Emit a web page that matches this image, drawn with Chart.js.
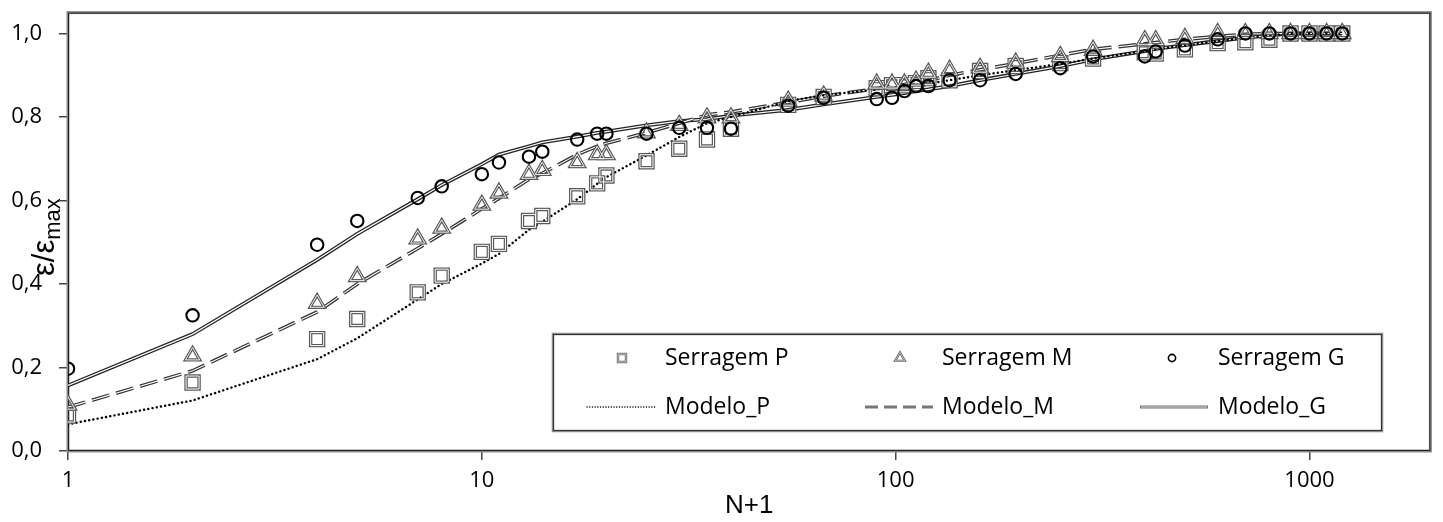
<!DOCTYPE html>
<html>
<head>
<meta charset="utf-8">
<script src="https://cdn.jsdelivr.net/npm/chart.js@4.4.1/dist/chart.umd.min.js"></script>
<style>
html,body{margin:0;padding:0;background:#fff;}
#wrap{width:1443px;height:522px;position:relative;}
</style>
</head>
<body>
<div id="wrap"><canvas id="c" width="1443" height="522"></canvas></div>
<script>
// ---- data ----
const nPlus1 = [1, 2, 4, 5, 7, 8, 10, 11, 13, 14, 17, 19, 20, 25, 30, 35, 40, 55, 67, 90, 98, 105, 112, 120, 135, 160, 195, 250, 300, 400, 425, 500, 600, 700, 800, 900, 1000, 1100, 1200];

const serragemP = [0.085, 0.164, 0.268, 0.316, 0.380, 0.420, 0.477, 0.496, 0.551, 0.563, 0.610, 0.641, 0.660, 0.694, 0.724, 0.746, 0.772, 0.829, 0.848, 0.869, 0.876, 0.876, 0.881, 0.893, 0.888, 0.910, 0.922, 0.929, 0.940, 0.955, 0.952, 0.962, 0.977, 0.979, 0.985, 1.0, 1.0, 1.0, 1.0];
const serragemM = [0.110, 0.228, 0.354, 0.418, 0.508, 0.534, 0.589, 0.618, 0.663, 0.672, 0.691, 0.710, 0.710, 0.762, 0.780, 0.798, 0.798, 0.838, 0.850, 0.879, 0.879, 0.879, 0.886, 0.905, 0.912, 0.917, 0.929, 0.945, 0.960, 0.983, 0.983, 0.988, 1.0, 1.0, 1.0, 1.0, 1.0, 1.0, 1.0];
const serragemG = [0.197, 0.325, 0.494, 0.551, 0.606, 0.634, 0.663, 0.691, 0.705, 0.717, 0.746, 0.760, 0.760, 0.760, 0.774, 0.774, 0.772, 0.827, 0.846, 0.843, 0.846, 0.862, 0.874, 0.874, 0.888, 0.888, 0.903, 0.917, 0.945, 0.945, 0.957, 0.971, 0.986, 1.0, 1.0, 1.0, 1.0, 1.0, 1.0];

const modeloP = [0.064, 0.121, 0.220, 0.270, 0.363, 0.400, 0.449, 0.472, 0.530, 0.549, 0.603, 0.640, 0.656, 0.708, 0.752, 0.785, 0.800, 0.838, 0.852, 0.866, 0.870, 0.873, 0.877, 0.880, 0.888, 0.900, 0.912, 0.927, 0.940, 0.958, 0.962, 0.972, 0.982, 0.990, 0.995, 1.0, 1.0, 1.0, 1.0];
const modeloM = [0.105, 0.192, 0.333, 0.400, 0.485, 0.520, 0.580, 0.605, 0.651, 0.665, 0.710, 0.730, 0.737, 0.762, 0.785, 0.805, 0.812, 0.835, 0.850, 0.868, 0.874, 0.878, 0.883, 0.887, 0.900, 0.913, 0.928, 0.948, 0.962, 0.975, 0.978, 0.986, 0.993, 0.998, 1.0, 1.0, 1.0, 1.0, 1.0];
const modeloG = [0.157, 0.280, 0.458, 0.520, 0.603, 0.637, 0.687, 0.710, 0.730, 0.739, 0.753, 0.762, 0.765, 0.780, 0.790, 0.795, 0.803, 0.817, 0.830, 0.848, 0.853, 0.857, 0.862, 0.866, 0.874, 0.888, 0.903, 0.922, 0.938, 0.958, 0.963, 0.972, 0.982, 0.990, 0.995, 1.0, 1.0, 1.0, 1.0];

const xTickValues = [1, 10, 100, 1000];
const yTickValues = [0, 0.2, 0.4, 0.6, 0.8, 1.0];

const seriesLabels = ['Serragem P', 'Serragem M', 'Serragem G'];
const modelLabels = ['Modelo_P', 'Modelo_M', 'Modelo_G'];

// ---- helpers ----
const pts = arr => nPlus1.map((x, i) => ({x: x, y: arr[i]}));
const TICK_FONT = {family: '"Open Sans", sans-serif', size: 22};
const DASH_M = [18, 7];

const lineDs = (label, arr, color, width, dash, order, extra) => Object.assign({
  label: label, data: pts(arr), showLine: true, borderColor: color, borderWidth: width,
  borderDash: dash || [], pointRadius: 0, pointHoverRadius: 0, tension: 0, fill: false, order: order
}, extra || {});

const markerDs = (label, arr, style, r, color, width, order) => ({
  label: label, data: pts(arr), showLine: false, pointStyle: style, pointRadius: r, pointHoverRadius: r,
  pointBorderColor: color, pointBackgroundColor: 'rgba(0,0,0,0)', pointBorderWidth: width, order: order
});

const datasets = [
  lineDs(modelLabels[2], modeloG, '#222', 3.8, null, 20),
  lineDs('_gInner', modeloG, '#fff', 1.2, null, 19),
  lineDs(modelLabels[1], modeloM, '#333', 3.6, DASH_M, 18),
  lineDs('_mInner', modeloM, '#fff', 1.1, DASH_M, 17),
  lineDs(modelLabels[0], modeloP, '#000', 2.4, [0.1, 4.2], 16, {borderCapStyle: 'round'}),
  markerDs(seriesLabels[0], serragemP, 'rect', 9.2, '#5a5a5a', 3.4, 10),
  markerDs('_pInner', serragemP, 'rect', 9.2, '#fff', 1.0, 9),
  markerDs(seriesLabels[1], serragemM, 'triangle', 8.2, '#5a5a5a', 3.2, 8),
  markerDs('_tInner', serragemM, 'triangle', 8.2, '#fff', 0.9, 7),
  markerDs(seriesLabels[2], serragemG, 'circle', 6.2, '#000', 2.1, 6)
];

// ---- plugins ----
const framePlugin = {
  id: 'frame',
  beforeDatasetsDraw(chart) {
    const {ctx, chartArea: a} = chart;
    ctx.save();
    ctx.strokeStyle = '#8a8a8a';
    ctx.lineWidth = 3;
    ctx.strokeRect(a.left, a.top, a.right - a.left, a.bottom - a.top);
    ctx.strokeStyle = '#222';
    ctx.lineWidth = 1;
    ctx.strokeRect(a.left + 0.5, a.top + 0.5, a.right - a.left - 1, a.bottom - a.top - 1);
    ctx.restore();
  }
};

const yTitlePlugin = {
  id: 'yTitle',
  beforeDraw(chart) {
    const ctx = chart.ctx;
    ctx.save();
    ctx.translate(45, 276);
    ctx.rotate(-Math.PI / 2);
    ctx.fillStyle = '#000';
    ctx.textAlign = 'left';
    ctx.textBaseline = 'middle';
    ctx.font = '31px "Liberation Sans", Arial, sans-serif';
    const main = 'ε/ε';
    ctx.fillText(main, 0, 0);
    const w = ctx.measureText(main).width;
    ctx.font = '22px "Liberation Sans", Arial, sans-serif';
    ctx.fillText('max', w, 9);
    ctx.restore();
  }
};

const legendPlugin = {
  id: 'boxLegend',
  afterDatasetsDraw(chart) {
    const ctx = chart.ctx;
    const L = 553, T = 334, R = 1382, B = 431;
    ctx.save();
    ctx.fillStyle = '#fff';
    ctx.fillRect(L, T, R - L, B - T);
    ctx.strokeStyle = '#8a8a8a';
    ctx.lineWidth = 2.5;
    ctx.strokeRect(L, T, R - L, B - T);
    ctx.strokeStyle = '#333';
    ctx.lineWidth = 1;
    ctx.strokeRect(L + 0.5, T + 0.5, R - L - 1, B - T - 1);

    const cols = [665, 942, 1218];
    const row1 = 358, row2 = 407;
    ctx.font = '23px "Open Sans", sans-serif';
    ctx.fillStyle = '#000';
    ctx.textBaseline = 'middle';
    ctx.textAlign = 'left';

    // row 1: markers
    let cx = cols[0] - 43;
    ctx.strokeStyle = '#5a5a5a'; ctx.lineWidth = 2.4;
    ctx.strokeRect(cx - 4, row1 - 4, 8, 8);
    ctx.strokeStyle = '#fff'; ctx.lineWidth = 0.7;
    ctx.strokeRect(cx - 4, row1 - 4, 8, 8);
    cx = cols[1] - 42;
    const tri = (r) => { ctx.beginPath(); ctx.moveTo(cx, row1 - r); ctx.lineTo(cx + r * 0.866, row1 + r / 2); ctx.lineTo(cx - r * 0.866, row1 + r / 2); ctx.closePath(); ctx.stroke(); };
    ctx.strokeStyle = '#5a5a5a'; ctx.lineWidth = 2.2; tri(5.5);
    ctx.strokeStyle = '#fff'; ctx.lineWidth = 0.6; tri(5.5);
    cx = cols[2] - 46;
    ctx.strokeStyle = '#000'; ctx.lineWidth = 1.6;
    ctx.beginPath(); ctx.arc(cx, row1, 3.6, 0, Math.PI * 2); ctx.stroke();

    seriesLabels.forEach((t, i) => ctx.fillText(t, cols[i], row1));

    // row 2: line samples
    ctx.lineCap = 'round';
    ctx.strokeStyle = '#000'; ctx.lineWidth = 1.4; ctx.setLineDash([0.1, 2.6]);
    ctx.beginPath(); ctx.moveTo(cols[0] - 78, row2); ctx.lineTo(cols[0] - 10, row2); ctx.stroke();
    ctx.lineCap = 'butt';
    ctx.strokeStyle = '#777'; ctx.lineWidth = 3; ctx.setLineDash([13, 6]);
    ctx.beginPath(); ctx.moveTo(cols[1] - 77, row2); ctx.lineTo(cols[1] - 9, row2); ctx.stroke();
    ctx.setLineDash([]);
    ctx.strokeStyle = '#777'; ctx.lineWidth = 3;
    ctx.beginPath(); ctx.moveTo(cols[2] - 78, row2); ctx.lineTo(cols[2] - 10, row2); ctx.stroke();
    ctx.strokeStyle = '#fff'; ctx.lineWidth = 0.7;
    ctx.beginPath(); ctx.moveTo(cols[2] - 77, row2); ctx.lineTo(cols[2] - 11, row2); ctx.stroke();

    modelLabels.forEach((t, i) => ctx.fillText(t, cols[i], row2));
    ctx.restore();
  }
};

new Chart(document.getElementById('c'), {
  type: 'scatter',
  data: {datasets: datasets},
  options: {
    responsive: false,
    animation: false,
    devicePixelRatio: 1,
    layout: {padding: {left: 0, right: 9, top: 10, bottom: 0}},
    plugins: {legend: {display: false}, tooltip: {enabled: false}},
    scales: {
      x: {
        type: 'logarithmic', min: 1, max: 1960,
        afterBuildTicks: s => { s.ticks = xTickValues.map(v => ({value: v})); },
        afterFit: s => { s.height = 71; s.paddingLeft = 0; s.paddingRight = 0; },
        ticks: {autoSkip: false, maxRotation: 0, padding: 8, color: '#000', font: TICK_FONT,
          callback: v => String(v)},
        grid: {display: true, drawOnChartArea: false, drawTicks: true, tickLength: 9, color: '#444', lineWidth: 1.5},
        border: {display: false},
        title: {display: true, text: 'N+1', color: '#000',
          font: {family: '"Liberation Sans", Arial, sans-serif', size: 26}, padding: {top: 0, bottom: 1}}
      },
      y: {
        type: 'linear', min: 0, max: 1.05,
        afterBuildTicks: s => { s.ticks = yTickValues.map(v => ({value: v})); },
        afterFit: s => { s.width = 68; s.paddingTop = 0; s.paddingBottom = 0; },
        ticks: {padding: 17, color: '#000', font: TICK_FONT,
          callback: v => Number(v).toFixed(1).replace('.', ',')},
        grid: {display: true, drawOnChartArea: false, drawTicks: true, tickLength: 9, color: '#444', lineWidth: 1.5},
        border: {display: false}
      }
    }
  },
  plugins: [yTitlePlugin, framePlugin, legendPlugin]
});
</script>
</body>
</html>
